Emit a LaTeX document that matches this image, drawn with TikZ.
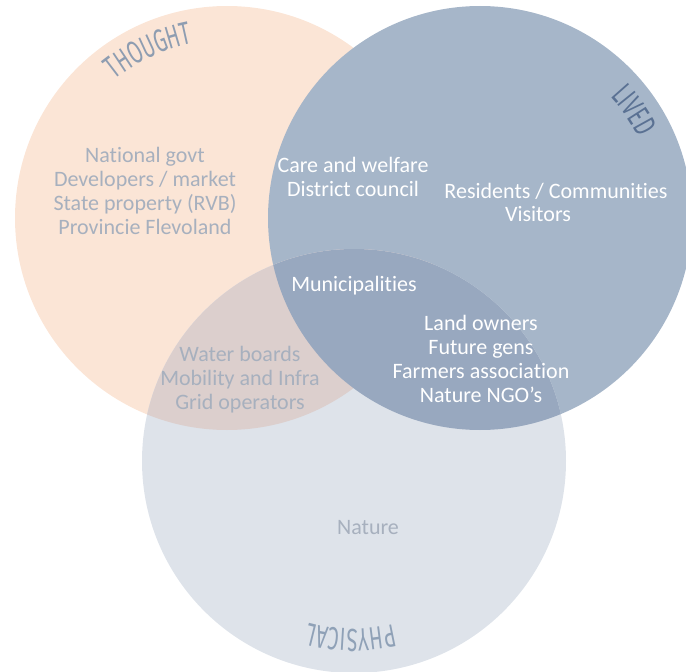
\documentclass[tikz,border=0pt]{standalone}
\usepackage{fontspec}
\setmainfont{Carlito}[Ligatures=NoCommon]
\newfontfamily\titlefont{Fira Sans}[FakeStretch=0.62]
\usetikzlibrary{decorations.text,calc}
\definecolor{thoughtc}{HTML}{FBE5D6}
\definecolor{livedc}{HTML}{A6B6C9}
\definecolor{physc}{HTML}{DEE3EA}
\definecolor{tpc}{HTML}{DCCFCD}
\definecolor{lpc}{HTML}{98A8BF}
\definecolor{graytext}{HTML}{A7B0BE}
\definecolor{titlegray}{HTML}{8E9DB1}
\definecolor{titleblue}{HTML}{5A7193}
\definecolor{titlephys}{HTML}{8FA1B7}
\begin{document}
\begin{tikzpicture}[x=0.5pt,y=0.5pt,
  lbl/.style={align=center, font=\fontsize{11}{12}\selectfont, inner sep=0pt},
  darklbl/.style={lbl, text=graytext},
  lightlbl/.style={lbl, text=white},
  titletext/.style={decorate, decoration={text along path, text align=center,
     text color=#1}}]
\useasboundingbox (0,0) rectangle (686,671);
\coordinate (T) at (227,453);
\coordinate (L) at (480,453);
\coordinate (P) at (354,210);
\fill[thoughtc] (T) circle (212);
\fill[livedc] (L) circle (212);
\fill[physc] (P) circle (212);
\begin{scope}
  \clip (P) circle (212);
  \fill[tpc] (T) circle (212);
  \fill[lpc] (L) circle (212);
\end{scope}
% titles
\path[titletext=titlegray, decoration={text={|\titlefont\fontsize{16}{16}\selectfont|THOUGHT}}]
  ($(T)+(140:178)$) arc (140:90:178);
\path[titletext=titleblue, decoration={text={|\titlefont\fontsize{16}{16}\selectfont|LIVED}}]
  ($(L)+(56:178)$) arc (56:14:178);
\path[titletext=titlephys, decoration={text={|\titlefont\fontsize{16}{16}\selectfont|PHYSICAL}}]
  ($(P)+(-61:168)$) arc (-61:-121:168);
% labels
\node[darklbl] (thought) at (145,480) {National govt\\Developers / market\\State property (RVB)\\Provincie Flevoland};
\node[lightlbl] (care) at (353,494) {Care and welfare\\District council};
\node[lightlbl] (res) at (556,480) {Residents / Communities};
\node[lightlbl] (vis) at (538,457) {Visitors};
\node[lightlbl] (muni) at (354,385) {Municipalities};
\node[lightlbl] (land) at (481,312) {Land owners\\Future gens\\Farmers association\\Nature NGO’s};
\node[darklbl] (water) at (240,291) {Water boards\\Mobility and Infra\\Grid operators};
\node[darklbl] (nature) at (368,143) {Nature};
\end{tikzpicture}
\end{document}
